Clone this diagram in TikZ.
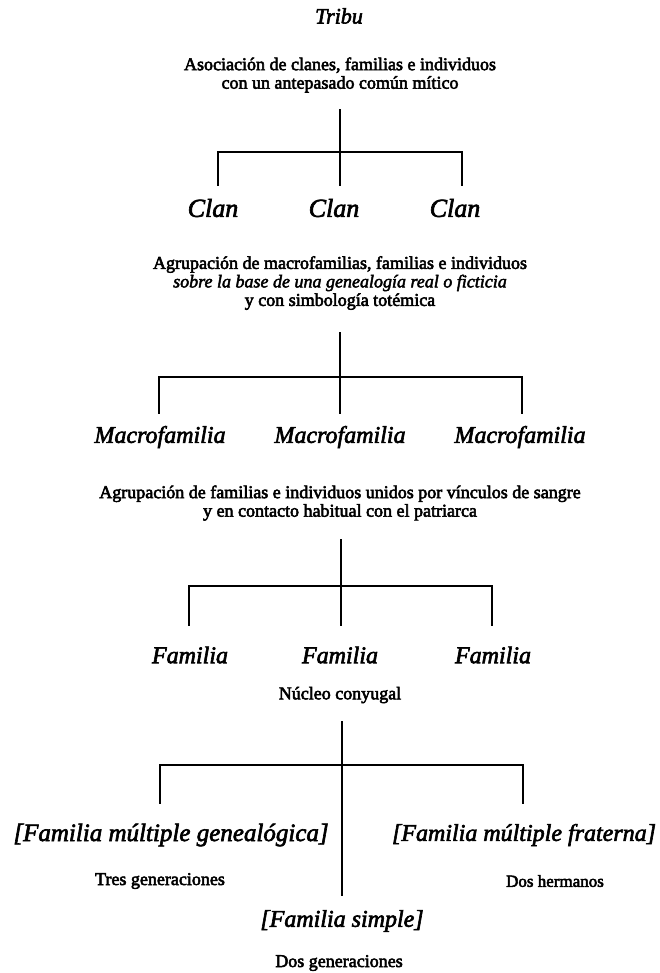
\documentclass[tikz,border=0pt]{standalone}
\usepackage{fontspec}
\setmainfont{Liberation Serif}[UprightFeatures={FakeBold=3}, ItalicFeatures={FakeBold=2.5}]
\begin{document}
\begin{tikzpicture}[x=1pt,y=-1pt,
  head/.style={font=\fontsize{24}{28}\selectfont\itshape, inner sep=0pt},
  desc/.style={font=\fontsize{18}{18.5}\selectfont, align=center, inner sep=0pt},
  tree/.style={line width=1.3pt, line cap=rect}]
\useasboundingbox (0,0) rectangle (659,973);
% level 0
\node[head, font=\fontsize{22}{26}\selectfont\itshape] (tribu) at (339,16) {Tribu};
\node[desc] (asoc) at (340,75) {Asociación de clanes, familias e individuos\\con un antepasado común mítico};
% tree 1
\coordinate (t1) at (340,110); \coordinate (h1) at (340,152);
\coordinate (l1) at (218,185); \coordinate (m1) at (340,185); \coordinate (r1) at (462,185);
\draw[tree] (t1) -- (m1);
\draw[tree] (l1) |- (h1) -| (r1);
\node[head, font=\fontsize{26}{30}\selectfont\itshape] (clan1) at (213,208) {Clan};
\node[head, font=\fontsize{26}{30}\selectfont\itshape] (clan2) at (334,208) {Clan};
\node[head, font=\fontsize{26}{30}\selectfont\itshape] (clan3) at (455,208) {Clan};
\node[desc] (agr1) at (340,283) {Agrupación de macrofamilias, familias e individuos\\\textit{sobre la base de una genealogía real o ficticia}\\y con simbología totémica};
% tree 2
\coordinate (t2) at (340,333); \coordinate (h2) at (340,377);
\coordinate (l2) at (159,413); \coordinate (m2) at (340,413); \coordinate (r2) at (522,413);
\draw[tree] (t2) -- (m2);
\draw[tree] (l2) |- (h2) -| (r2);
\node[head] (mac1) at (160,437) {Macrofamilia};
\node[head] (mac2) at (340,437) {Macrofamilia};
\node[head] (mac3) at (520,437) {Macrofamilia};
\node[desc] (agr2) at (340,503) {Agrupación de familias e individuos unidos por vínculos de sangre\\y en contacto habitual con el patriarca};
% tree 3
\coordinate (t3) at (341,540); \coordinate (h3) at (341,586);
\coordinate (l3) at (189,625); \coordinate (m3) at (341,625); \coordinate (r3) at (492,625);
\draw[tree] (t3) -- (m3);
\draw[tree] (l3) |- (h3) -| (r3);
\node[head] (fam1) at (190,655) {Familia};
\node[head] (fam2) at (340,655) {Familia};
\node[head] (fam3) at (493,655) {Familia};
\node[desc] (nuc) at (340,695) {Núcleo conyugal};
% tree 4
\coordinate (t4) at (342,722); \coordinate (h4) at (342,765);
\coordinate (l4) at (160,803); \coordinate (m4) at (342,895); \coordinate (r4) at (523,803);
\draw[tree] (t4) -- (m4);
\draw[tree] (l4) |- (h4) -| (r4);
\node[head, font=\fontsize{25}{29}\selectfont\itshape] (fmg) at (171,835) {[Familia múltiple genealógica]};
\node[head] (fmf) at (524,835) {[Familia múltiple fraterna]};
\node[desc] (tres) at (160,881) {Tres generaciones};
\node[desc, font=\fontsize{17}{18.5}\selectfont] (dosh) at (555,881) {Dos hermanos};
\node[head] (fs) at (342,921) {[Familia simple]};
\node[desc] (dosg) at (339,963) {Dos generaciones};
\end{tikzpicture}
\end{document}
